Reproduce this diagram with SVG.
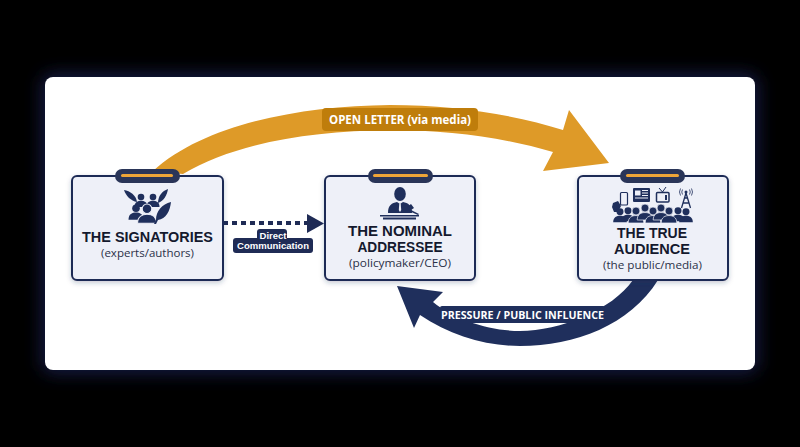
<svg xmlns="http://www.w3.org/2000/svg" width="800" height="447" viewBox="0 0 800 447">
<style>
.n{fill:#1f2f5c}
.card{fill:#eef0f8;stroke:#1f2b55;stroke-width:2}
.pill{fill:#2a3558}
.bar{fill:#eea538}
text{font-family:"Open Sans","Liberation Sans",sans-serif;text-anchor:middle}
.t{font-family:"Liberation Sans",Arial,sans-serif;font-size:13.8px;font-weight:700;fill:#14192e}
.s{font-size:11.2px;fill:#2b3148}
.w{fill:#fff;font-weight:700}
.d{font-family:"Liberation Sans",Arial,sans-serif;font-size:8.2px}
</style>
<defs>
<filter id="glow" x="-10%" y="-20%" width="120%" height="140%"><feGaussianBlur stdDeviation="9"/></filter>
<filter id="sh" x="-10%" y="-10%" width="120%" height="125%"><feDropShadow dx="0" dy="2" stdDeviation="2.5" flood-color="#1f2b55" flood-opacity=".25"/></filter>
<g id="p"><circle cx="0" cy="-5" r="3.3"/><path d="M-6.500 5C-6.500 0-3-1.200 0-1.200S6.500 0 6.500 5Z"/></g>
</defs>
<rect width="800" height="447" fill="#000"/>
<rect x="42" y="74" width="716" height="299" rx="10" fill="#232a66" opacity=".7" filter="url(#glow)"/>
<rect x="45" y="77" width="710" height="293" rx="8" fill="#fff"/>
<g id="connectors">
<path id="open-letter" fill="#de9a28" d="M153 171C205 124 300 106 390 105C455 105 515 115 563 130L569 110L609 163L543 171L553 152C505 138 450 130 390 130C310 131 235 143 183 174Z"/>
<path id="pressure" fill="#1f2f5c" d="M658 280C630 325 575 346 520 346C485 346 450 335 420 315L414 328L397 286L443 292L433 302C455 320 490 331 520 331C560 331 612 310 633 280Z"/>
<path id="direct" fill="none" stroke="#1f2b55" stroke-width="4" stroke-dasharray="5 4" d="M223 223H307"/>
<path fill="#1f2b55" d="M307 214L324 223.500L307 233Z"/>
</g>
<g id="label-open"><rect x="322" y="108" width="156" height="23" rx="4" fill="#bf7d0b"/><text class="w" x="400" y="124" font-size="11.6" textLength="142" lengthAdjust="spacingAndGlyphs">OPEN LETTER (via media)</text></g>
<g id="label-pressure"><rect x="440" y="306" width="165" height="17" rx="2" fill="#1f2f5c"/><text class="w" x="522.500" y="318.500" font-size="10.4" textLength="163" lengthAdjust="spacingAndGlyphs">PRESSURE / PUBLIC INFLUENCE</text></g>
<g id="label-direct"><rect x="233" y="238" width="80" height="15" rx="3" fill="#1f2b55"/><rect x="257" y="229" width="30" height="12" rx="3" fill="#1f2b55"/><text class="w d" x="273" y="239" textLength="27" lengthAdjust="spacingAndGlyphs">Direct</text><text class="w d" x="273" y="249" textLength="72" lengthAdjust="spacingAndGlyphs">Communication</text></g>

<g id="signatories">
<rect class="card" x="72" y="176" width="151" height="104" rx="5" filter="url(#sh)"/>
<rect class="pill" x="115" y="169" width="65" height="14" rx="7"/><rect class="bar" x="121" y="174" width="52" height="3" rx="1.500"/>
<g class="n">
<use href="#p" x="141" y="202"/><use href="#p" x="153" y="202"/>
<use href="#p" transform="translate(136 214) scale(1.15)"/>
<use href="#p" transform="translate(147 216) scale(1.45)" stroke="#eef0f8" stroke-width=".7"/>
<path d="M124 190C130 191 136 195 137 202C131 201 126 196 124 190Z"/>
<path d="M168 189C162 191 158 196 158 203C164 201 167 195 168 189Z"/>
<path d="M171 202C162 204 156 211 156 220L154 224L156 224L158 220C166 219 170 211 171 202Z"/>
</g>
<text class="t" x="147.500" y="242" textLength="131" lengthAdjust="spacingAndGlyphs">THE SIGNATORIES</text>
<text class="s" x="147.500" y="257" textLength="93" lengthAdjust="spacingAndGlyphs">(experts/authors)</text>
</g>

<g id="addressee">
<rect class="card" x="325" y="176" width="150" height="104" rx="5" filter="url(#sh)"/>
<rect class="pill" x="368" y="169" width="65" height="14" rx="7"/><rect class="bar" x="373" y="174" width="55" height="3" rx="1.500"/>
<g class="n">
<ellipse cx="400" cy="194" rx="5.800" ry="7"/>
<path d="M388 213C388 205 392 203 397 202L400 204L403 202C408 203 412 205 412 213Z"/>
<path d="M380 215H419V216.500H380ZM383 217.500H416V219.500H383Z"/>
<path d="M407 207L411 204L414 208L411 210L419 214L418 215L409 211Z"/>
</g>
<path d="M399.300 203.500H400.700L401.200 210L400 212L398.800 210Z" fill="#eef0f8"/>
<text class="t" x="400" y="236" textLength="104" lengthAdjust="spacingAndGlyphs">THE NOMINAL</text>
<text class="t" x="400" y="252" textLength="85" lengthAdjust="spacingAndGlyphs">ADDRESSEE</text>
<text class="s" x="400" y="267" textLength="102" lengthAdjust="spacingAndGlyphs">(policymaker/CEO)</text>
</g>

<g id="audience">
<rect class="card" x="578" y="176" width="150" height="104" rx="5" filter="url(#sh)"/>
<rect class="pill" x="620" y="169" width="65" height="14" rx="7"/><rect class="bar" x="626" y="174" width="53" height="3" rx="1.500"/>
<g class="n">
<rect x="620.500" y="192.500" width="7" height="12.500" rx="1" fill="none" stroke="#1f2f5c" stroke-width="1.200"/>
<path d="M613 203L618 201L621 206L618 212H614L612 207Z"/>
<rect x="633" y="188" width="17" height="14" rx="1"/>
<rect x="635" y="190.500" width="5.500" height="5" fill="#eef0f8"/>
<path d="M642 190.500H648M642 193H648M642 195.500H648M635 198H648" stroke="#eef0f8" stroke-width="1"/>
<rect x="656.500" y="192.500" width="12.500" height="9.500" rx="1" fill="none" stroke="#1f2f5c" stroke-width="1.500"/>
<path d="M659 188L662.500 192L666 187" fill="none" stroke="#1f2f5c"/>
<rect x="665" y="195" width="2" height="5"/>
<path d="M686 193L681.500 208M686 193L690.500 208M683 203H689M684.500 198H687.500" fill="none" stroke="#1f2f5c" stroke-width="1.300"/>
<circle cx="686" cy="192" r="1.500"/>
<path d="M682.500 189.500Q681 192 682.500 194.500M680.500 188.500Q678.500 192 680.500 195.500M689.500 189.500Q691 192 689.500 194.500M691.500 188.500Q693.500 192 691.500 195.500" fill="none" stroke="#1f2f5c" stroke-width=".8"/>
<use href="#p" transform="translate(620 217) scale(1.05)"/>
<use href="#p" transform="translate(686 217) scale(1.05)"/>
<use href="#p" transform="translate(678 216) scale(1.05)"/>
<use href="#p" transform="translate(628 216) scale(1.05)"/>
<use href="#p" transform="translate(636 217) scale(1.2)" stroke="#eef0f8" stroke-width=".6"/>
<use href="#p" transform="translate(645 214) scale(1.2)" stroke="#eef0f8" stroke-width=".6"/>
<use href="#p" transform="translate(653 217) scale(1.2)" stroke="#eef0f8" stroke-width=".6"/>
<use href="#p" transform="translate(661 214) scale(1.2)" stroke="#eef0f8" stroke-width=".6"/>
<use href="#p" transform="translate(669 217) scale(1.2)" stroke="#eef0f8" stroke-width=".6"/>
</g>
<text class="t" x="652" y="238" textLength="70" lengthAdjust="spacingAndGlyphs">THE TRUE</text>
<text class="t" x="652" y="254" textLength="76" lengthAdjust="spacingAndGlyphs">AUDIENCE</text>
<text class="s" x="652.500" y="269" textLength="99" lengthAdjust="spacingAndGlyphs">(the public/media)</text>
</g>
</svg>
